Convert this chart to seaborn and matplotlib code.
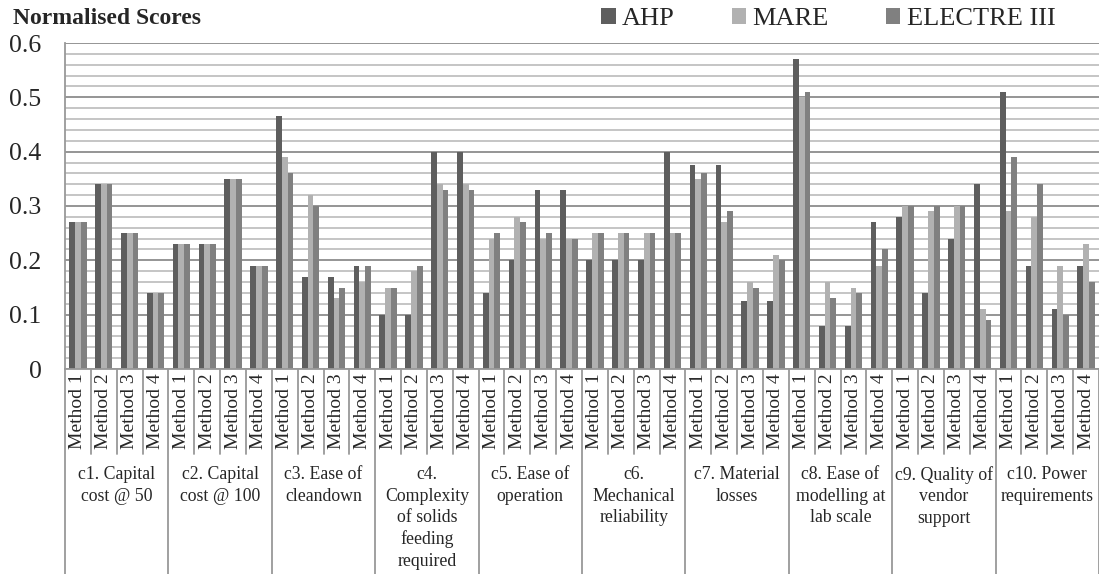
import matplotlib
matplotlib.use("Agg")
import matplotlib.pyplot as plt
from matplotlib.ticker import MultipleLocator
import numpy as np
import pandas as pd
import seaborn as sns

# criteria (group labels) and methods (inner labels)
criteria = ["c1. Capital\ncost @ 50", "c2. Capital\ncost @ 100", "c3. Ease of\ncleandown",
            "c4.\nComplexity\nof solids\nfeeding\nrequired", "c5. Ease of\noperation",
            "c6.\nMechanical\nreliability", "c7. Material\nlosses",
            "c8. Ease of\nmodelling at\nlab scale", "c9. Quality of\nvendor\nsupport",
            "c10. Power\nrequirements"]
methods = ["Method 1", "Method 2", "Method 3", "Method 4"]
series = ["AHP", "MARE", "ELECTRE III"]

# scores, 4 methods per criterion, criteria in order c1..c10
ahp = [0.27, 0.34, 0.25, 0.14,
       0.23, 0.23, 0.35, 0.19,
       0.466, 0.17, 0.17, 0.19,
       0.10, 0.10, 0.40, 0.40,
       0.14, 0.20, 0.33, 0.33,
       0.20, 0.20, 0.20, 0.40,
       0.375, 0.375, 0.125, 0.125,
       0.57, 0.08, 0.08, 0.27,
       0.28, 0.14, 0.24, 0.34,
       0.51, 0.19, 0.11, 0.19]
mare = [0.27, 0.34, 0.25, 0.14,
        0.23, 0.23, 0.35, 0.19,
        0.39, 0.32, 0.13, 0.16,
        0.15, 0.18, 0.34, 0.34,
        0.24, 0.28, 0.24, 0.24,
        0.25, 0.25, 0.25, 0.25,
        0.35, 0.27, 0.16, 0.21,
        0.50, 0.16, 0.15, 0.19,
        0.30, 0.29, 0.30, 0.11,
        0.29, 0.28, 0.19, 0.23]
electre = [0.27, 0.34, 0.25, 0.14,
           0.23, 0.23, 0.35, 0.19,
           0.36, 0.30, 0.15, 0.19,
           0.15, 0.19, 0.33, 0.33,
           0.25, 0.27, 0.25, 0.24,
           0.25, 0.25, 0.25, 0.25,
           0.36, 0.29, 0.15, 0.20,
           0.51, 0.13, 0.14, 0.22,
           0.30, 0.30, 0.30, 0.09,
           0.39, 0.34, 0.10, 0.16]

colors = {"AHP": "#5e5e5e", "MARE": "#b1b1b1", "ELECTRE III": "#808080"}

items = ["c%d %s" % (i + 1, m) for i in range(len(criteria)) for m in methods]
rows = []
for name, vals in zip(series, [ahp, mare, electre]):
    for it, v in zip(items, vals):
        rows.append({"item": it, "score": v, "series": name})
df = pd.DataFrame(rows)

sns.set_style("white")
plt.rcParams["font.family"] = ["Liberation Serif", "DejaVu Serif"]

fig = plt.figure(figsize=(10.99, 5.74), dpi=100)
ax = fig.add_axes([65 / 1099, 1 - 369 / 574, 1034 / 1099, 326 / 574])

sns.barplot(data=df, x="item", y="score", hue="series", order=items, hue_order=series,
            palette=colors, width=0.67, linewidth=0, saturation=1, ax=ax, legend=True)

ax.set_xlim(-0.5, len(items) - 0.5)
ax.set_ylim(0, 0.6)
ax.yaxis.set_major_locator(MultipleLocator(0.1))
ax.yaxis.set_minor_locator(MultipleLocator(0.02))
ax.set_yticks(np.arange(0, 0.61, 0.1))
ax.set_yticklabels(["0", "0.1", "0.2", "0.3", "0.4", "0.5", "0.6"], fontsize=18.5)
ax.grid(True, which="major", axis="y", color="#8c8c8c", lw=1.3)
ax.grid(True, which="minor", axis="y", color="#c0c0c0", lw=1.3)
ax.set_axisbelow(True)
ax.tick_params(axis="y", which="major", length=7, width=1.3, color="#8c8c8c", pad=10)
ax.tick_params(axis="y", which="minor", length=0)
ax.set_xlabel("")
ax.set_ylabel("")

ax.set_xticks(range(len(items)))
ax.set_xticklabels([m for _ in criteria for m in methods], rotation=90, fontsize=14)
ax.tick_params(axis="x", length=0, pad=3)

for s in ["top", "right"]:
    ax.spines[s].set_visible(False)
for s in ["left", "bottom"]:
    ax.spines[s].set_color("#999999")
    ax.spines[s].set_linewidth(1.3)

# separators of the two-level category axis
tr = ax.get_xaxis_transform()
for k in range(len(items) + 1):
    x = k - 0.5
    y_end = -0.65 if k % len(methods) == 0 else -0.262
    ax.plot([x, x], [0, y_end], transform=tr, color="#999999", lw=1.3, clip_on=False)

for i, lab in enumerate(criteria):
    xc = i * len(methods) + (len(methods) - 1) / 2
    ax.annotate(lab, xy=(xc, 0), xycoords=tr, xytext=(0, -70), textcoords="offset points",
                ha="center", va="top", fontsize=12.8, linespacing=1.33, annotation_clip=False)

handles, labels = ax.get_legend_handles_labels()
ax.get_legend().remove()
fig.legend(handles, labels, loc="center left", bbox_to_anchor=(601 / 1099, 1 - 19 / 574),
           ncol=3, frameon=False, fontsize=19, handlelength=0.55, handleheight=0.55,
           handletextpad=0.25, columnspacing=2.15, borderpad=0, borderaxespad=0)

fig.text(13 / 1099, 1 - 8 / 574, "Normalised Scores", fontsize=17, fontweight="bold",
         ha="left", va="top")

fig.savefig("out.png", dpi=100)
